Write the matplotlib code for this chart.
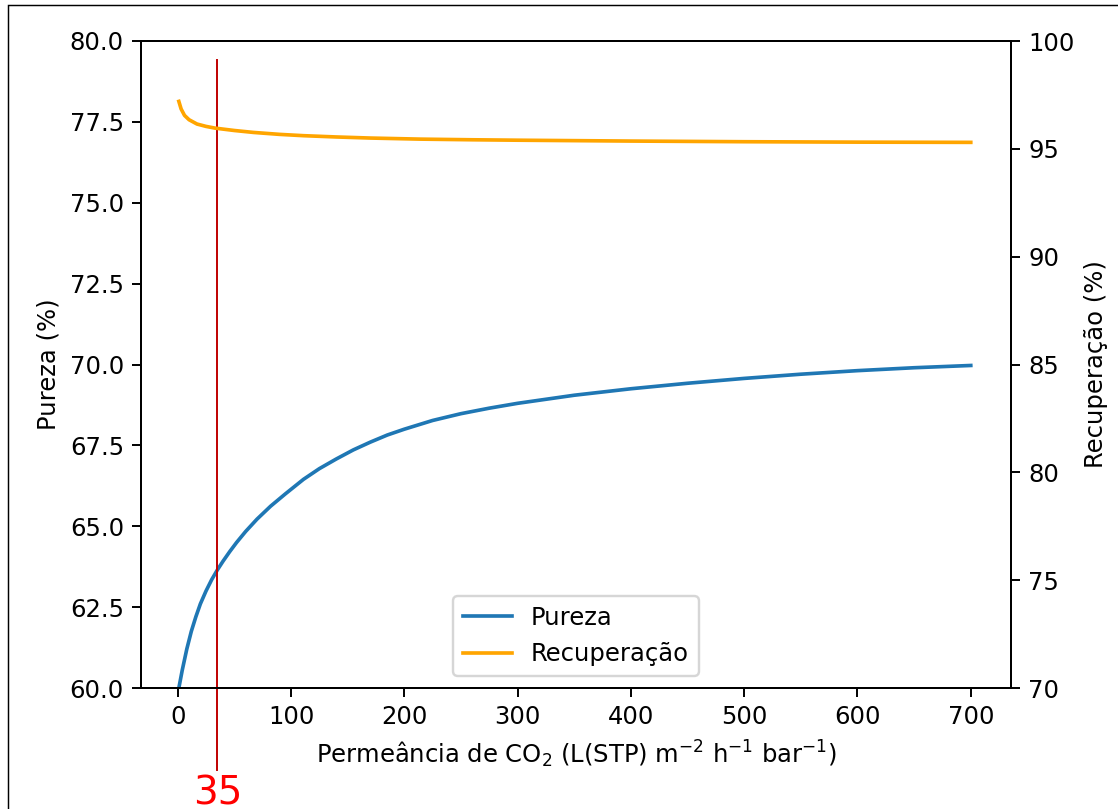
import matplotlib
matplotlib.use("Agg")
import matplotlib.pyplot as plt
from matplotlib.patches import Rectangle
import matplotlib.transforms as mtransforms

# values
perm_pureza = [1, 4, 8, 12, 16, 20, 25, 30, 35, 40, 46, 52, 60, 70, 82, 95,
               111, 125, 140, 155, 170, 185, 200, 225, 250, 275, 300, 350,
               400, 450, 500, 550, 600, 650, 700]
pureza = [60.0, 60.55, 61.2, 61.75, 62.2, 62.6, 63.0, 63.35, 63.65, 63.92,
          64.22, 64.5, 64.84, 65.22, 65.62, 66.0, 66.45, 66.78, 67.08, 67.36,
          67.6, 67.82, 68.0, 68.27, 68.48, 68.65, 68.8, 69.05, 69.25, 69.42,
          69.57, 69.7, 69.81, 69.9, 69.97]

perm_recup = [1, 3, 6, 10, 17, 25, 33, 50, 67, 90, 111, 140, 170, 214, 260,
              300, 400, 500, 600, 700]
recuperacao = [97.2, 96.85, 96.55, 96.35, 96.15, 96.04, 95.96, 95.85, 95.76,
               95.67, 95.61, 95.55, 95.5, 95.45, 95.42, 95.4, 95.36, 95.33,
               95.31, 95.30]

PERM_MARK = 35

DPI = 175
fig = plt.figure(figsize=(1118 / DPI, 809 / DPI), dpi=DPI)
ax = fig.add_axes([141 / 1118, 1 - 688 / 809, 870 / 1118, 647 / 809])
ax2 = ax.twinx()

l1, = ax.plot(perm_pureza, pureza, color="#1f77b4", label="Pureza")
l2, = ax2.plot(perm_recup, recuperacao, color="orange", label="Recuperação")

ax.set_xlim(-32.4, 735.5)
ax.set_ylim(60, 80)
ax2.set_ylim(70, 100)
ax.set_xticks([0, 100, 200, 300, 400, 500, 600, 700])
ax.set_yticks([60, 62.5, 65, 67.5, 70, 72.5, 75, 77.5, 80])

ax.set_xlabel(r"Permeância de CO$_2$ (L(STP) m$^{-2}$ h$^{-1}$ bar$^{-1}$)")
ax.set_ylabel("Pureza (%)")
ax2.set_ylabel("Recuperação (%)")

ax2.legend(handles=[l1, l2], loc="lower center")

# marker line at chosen permeance, running past the axes
ax.axvline(PERM_MARK, ymin=-0.127, ymax=0.971, color="#c00000", lw=0.8,
           clip_on=False, zorder=5)
trans = mtransforms.blended_transform_factory(ax.transData, ax.transAxes)
ax.text(PERM_MARK + 0.5, -0.134, str(PERM_MARK), transform=trans, color="red",
        fontsize=16, ha="center", va="top", clip_on=False)

# thin frame around the picture
fig.patches.append(Rectangle((8 / 1118, -0.1), 1.2, 1.1 - 5 / 809,
                             transform=fig.transFigure, fill=False,
                             edgecolor="black", lw=0.6))

fig.savefig("out.png", dpi=DPI)
